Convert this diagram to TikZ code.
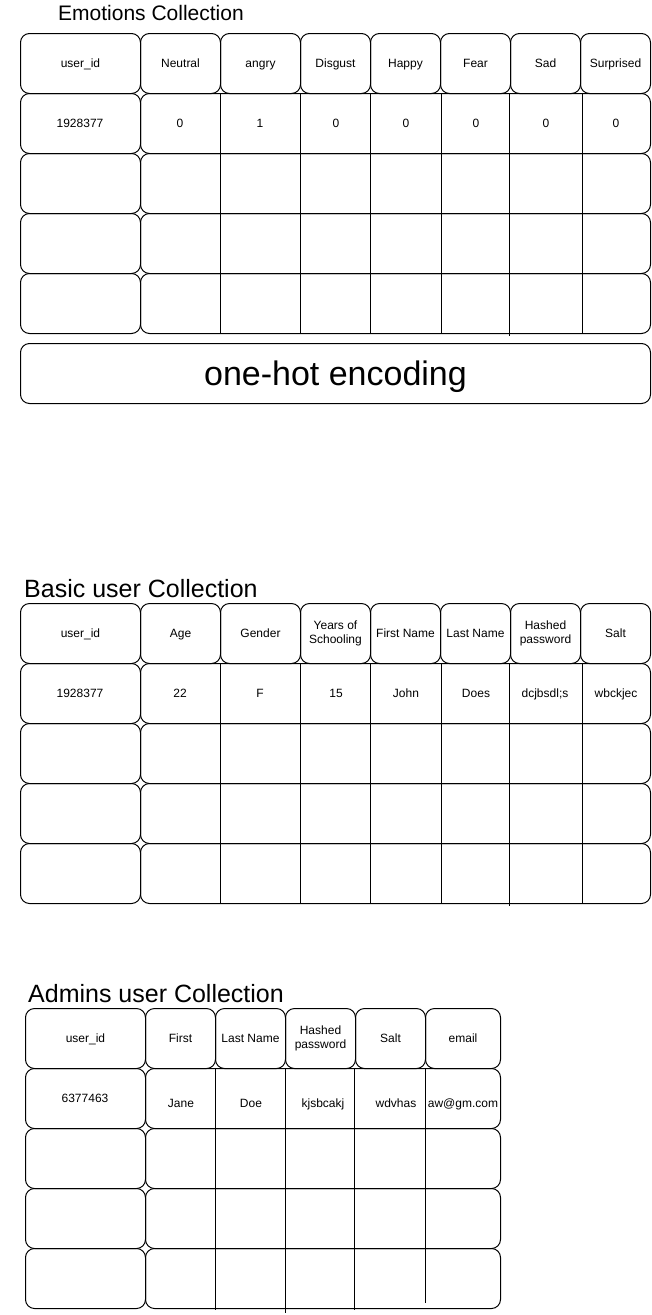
\documentclass[tikz,border=0pt]{standalone}
\usepackage{fontspec}
\setmainfont{Liberation Sans}
\begin{document}
\begin{tikzpicture}[x=1pt,y=-1pt,
  cell/.style={draw=black, line width=1pt, rounded corners=9pt, inner sep=0pt, anchor=north west, align=center, font=\fontsize{12}{14}\selectfont, text height=10.9pt, text depth=2.5pt},
  box/.style={draw=black, line width=1pt, rounded corners=9pt, inner sep=0pt, anchor=north west},
  txt/.style={inner sep=0pt, align=center, font=\fontsize{12}{14}\selectfont, text height=10.9pt, text depth=2.5pt},
  twoline/.style={inner sep=0pt, align=center, font=\fontsize{12}{14}\selectfont},
  ttl/.style={inner sep=0pt, anchor=base west},
  sepline/.style={line width=1pt}]
\useasboundingbox (0,0) rectangle (651,1315);

% ---------------- Emotions Collection ----------------
\node[ttl, font=\fontsize{21}{25}\selectfont] (t1) at (58,20) {Emotions Collection};
\foreach \i/\xa/\w/\t in {0/20/120/user\_id, 1/140/80/Neutral, 2/220/80/angry, 3/300/70/Disgust, 4/370/70/Happy, 5/440/70/Fear, 6/510/70/Sad, 7/580/70/Surprised}
  \node[cell, minimum width=\w pt, minimum height=60pt] (eh\i) at (\xa,33) {\t};
\foreach \r/\y in {1/93,2/153,3/213,4/273} {
  \node[box, minimum width=120pt, minimum height=60pt] (eu\r) at (20,\y) {};
  \node[box, minimum width=510pt, minimum height=60pt] (er\r) at (140,\y) {};
}
\draw[sepline] (220,93) -- (220,333);
\draw[sepline] (300,93) -- (300,333);
\draw[sepline] (370.5,93) -- (370.5,333);
\draw[sepline] (441,93) -- (441,333);
\draw[sepline] (509.5,93) -- (509.5,336);
\draw[sepline] (582,93) -- (582,333);
\node[txt] (ev0) at (80,123) {1928377};
\foreach \i/\xc/\t in {1/180/0, 2/260/1, 3/336/0, 4/406/0, 5/476/0, 6/546/0, 7/616/0}
  \node[txt] (ev\i) at (\xc,123) {\t};
\node[cell, minimum width=630pt, minimum height=60pt, font=\fontsize{34}{40}\selectfont, text height=30.8pt, text depth=7.2pt] (onehot) at (20,343) {one-hot encoding};

% ---------------- Basic user Collection ----------------
\node[ttl, font=\fontsize{25}{30}\selectfont] (t2) at (24,597) {Basic user Collection};
\foreach \i/\xa/\w/\t in {0/20/120/user\_id, 1/140/80/Age, 2/220/80/Gender, 4/370/70/First Name, 5/440/70/Last Name, 7/580/70/Salt}
  \node[cell, minimum width=\w pt, minimum height=60pt] (bh\i) at (\xa,603) {\t};
\node[box, minimum width=70pt, minimum height=60pt] (bh3) at (300,603) {};
\node[twoline] (bh3t) at (bh3.center) {Years of\\Schooling};
\node[box, minimum width=70pt, minimum height=60pt] (bh6) at (510,603) {};
\node[twoline] (bh6t) at (bh6.center) {Hashed\\password};
\foreach \r/\y in {1/663,2/723,3/783,4/843} {
  \node[box, minimum width=120pt, minimum height=60pt] (bu\r) at (20,\y) {};
  \node[box, minimum width=510pt, minimum height=60pt] (br\r) at (140,\y) {};
}
\draw[sepline] (220,663) -- (220,903);
\draw[sepline] (300,663) -- (300,903);
\draw[sepline] (370.5,663) -- (370.5,903);
\draw[sepline] (441,663) -- (441,903);
\draw[sepline] (509.5,663) -- (509.5,906);
\draw[sepline] (582,663) -- (582,903);
\foreach \i/\xc/\t in {0/80/1928377, 1/180/22, 2/260/F, 3/336/15, 4/406/John, 5/476/Does, 6/545/dcjbsdl;s, 7/616/wbckjec}
  \node[txt] (bv\i) at (\xc,693) {\t};

% ---------------- Admins user Collection ----------------
\node[ttl, font=\fontsize{25}{30}\selectfont] (t3) at (28,1002) {Admins user Collection};
\foreach \i/\xa/\w/\t in {0/25/120/user\_id, 1/145/70/First, 2/215/70/Last Name, 4/355/70/Salt, 5/425/75/email}
  \node[cell, minimum width=\w pt, minimum height=60pt] (ah\i) at (\xa,1008) {\t};
\node[box, minimum width=70pt, minimum height=60pt] (ah3) at (285,1008) {};
\node[twoline] (ah3t) at (ah3.center) {Hashed\\password};
\foreach \r/\y in {1/1068,2/1128,3/1188,4/1248} {
  \node[box, minimum width=120pt, minimum height=60pt] (au\r) at (25,\y) {};
  \node[box, minimum width=355pt, minimum height=60pt] (ar\r) at (145,\y) {};
}
\draw[sepline] (215,1068) -- (215,1310);
\draw[sepline] (285,1068) -- (285,1313);
\draw[sepline] (354,1068) -- (354,1310);
\draw[sepline] (425,1068) -- (425,1303);
\node[txt] (av0) at (85,1098) {6377463};
\foreach \i/\xc/\t in {1/181/Jane, 2/251/Doe, 3/323/kjsbcakj, 4/396/wdvhas, 5/463/aw@gm.com}
  \node[txt] (av\i) at (\xc,1103) {\t};
\end{tikzpicture}
\end{document}
